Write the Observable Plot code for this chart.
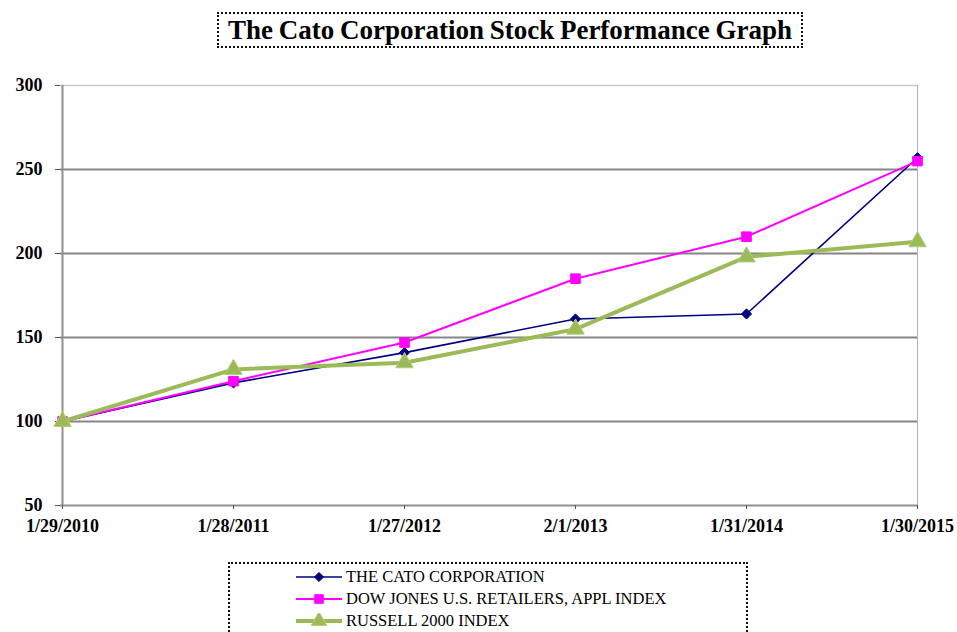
<!DOCTYPE html>
<html><head><meta charset="utf-8">
<script src="https://cdn.jsdelivr.net/npm/d3@7"></script>
<script src="https://cdn.jsdelivr.net/npm/@observablehq/plot@0.6"></script>
<style>
html,body{margin:0;padding:0;background:#fff;}
body{width:957px;height:632px;overflow:hidden;position:relative;font-family:"Liberation Serif","Times New Roman",serif;color:#000;}
#title{position:absolute;left:217px;top:12px;width:582px;height:32px;border:2px dotted #111;box-sizing:content-box;
  font-weight:bold;font-size:27px;line-height:32px;text-align:center;white-space:nowrap;word-spacing:-1px;}
#chart{position:absolute;left:0;top:60px;}
#legend{position:absolute;left:228px;top:562px;width:516px;height:90px;border:2px dotted #111;}
.row{position:absolute;left:66px;height:20px;display:flex;align-items:center;font-size:16.5px;white-space:nowrap;}
.row svg{margin-right:4px;}
</style></head>
<body>
<div id="title"></div>
<div id="chart"></div>
<div id="legend"></div>
<script>
const titleText = "The Cato Corporation Stock Performance Graph";
const dates = ["1/29/2010","1/28/2011","1/27/2012","2/1/2013","1/31/2014","1/30/2015"];
const cato = [100,123,141,161,164,257];
const dow = [100,124,147,185,210,255];
const russell = [100,131,135,155,198,207];
const seriesNames = ["THE CATO CORPORATION","DOW JONES U.S. RETAILERS, APPL INDEX","RUSSELL 2000 INDEX"];
const yTicks = [50,100,150,200,250,300];

document.getElementById("title").textContent = titleText;

const rows = (vals, name) => dates.map((d,i)=>({date:d, value:vals[i], series:name}));
const catoRows = rows(cato, seriesNames[0]);
const dowRows = rows(dow, seriesNames[1]);
const rusRows = rows(russell, seriesNames[2]);

const styles = [
  {stroke:"#000080", width:1.6, symbol:"diamond2", r:4.6, fill:"#000080", mstroke:"#000080"},
  {stroke:"#ff00ff", width:2, symbol:"square", r:5.4, fill:"#ff00ff", mstroke:"#ff00ff"},
  {stroke:"#9bbb59", width:4, symbol:"triangle", r:6.5, fill:"#9bbb59", mstroke:"#b5cc78"}
];
const data = [catoRows, dowRows, rusRows];

const seriesMarks = data.flatMap((d,i)=>[
  Plot.line(d,{x:"date",y:"value",stroke:styles[i].stroke,strokeWidth:styles[i].width}),
  Plot.dot(d,{x:"date",y:"value",symbol:()=>styles[i].symbol,r:styles[i].r,fill:styles[i].fill,stroke:styles[i].mstroke,strokeWidth:1})
]);

const chart = Plot.plot({
  width:957, height:485, marginLeft:60, marginRight:39, marginTop:25, marginBottom:40,
  style:{fontFamily:"'Liberation Serif', serif", fontSize:"18px", fontWeight:"bold", color:"#000", background:"transparent", overflow:"visible"},
  x:{type:"point", domain:dates, padding:0, label:null},
  y:{domain:[50,300], ticks:yTicks, label:null},
  symbol:{type:"identity"},
  marks:[
    Plot.ruleY([yTicks[5]],{stroke:"#c8c8c8", strokeWidth:1.5}),
    Plot.ruleY(yTicks.slice(1,5),{stroke:"#858585", strokeWidth:2}),
    Plot.ruleX([dates[5]],{stroke:"#b4b4b4", strokeWidth:1}),
    Plot.ruleY([yTicks[0]],{stroke:"#909090", strokeWidth:2}),
    Plot.ruleX([dates[0]],{stroke:"#909090", strokeWidth:2}),
    Plot.axisY({ticks:yTicks, tickSize:5, tickPadding:13, tickFormat:d=>String(d), stroke:"#555", label:null}),
    Plot.axisX({tickSize:4, tickPadding:10, stroke:"#555", label:null}),
    ...seriesMarks
  ]
});
document.getElementById("chart").appendChild(chart);

// legend
const legend = document.getElementById("legend");
seriesNames.forEach((name,i)=>{
  const row = document.createElement("div");
  row.className = "row";
  row.style.top = (3 + i*22) + "px";
  const s = styles[i];
  const sym = d3.symbol(d3["symbol" + {diamond2:"Diamond2",square:"Square",triangle:"Triangle"}[s.symbol]], Math.PI*s.r*s.r*0.8)();
  row.innerHTML = `<svg width="46" height="16"><line x1="0" x2="46" y1="8" y2="8" stroke="${s.stroke}" stroke-width="${s.width}"/>`+
    `<path d="${sym}" transform="translate(23,8)" fill="${s.fill}" stroke="${s.mstroke}"/></svg><span></span>`;
  row.querySelector("span").textContent = name;
  legend.appendChild(row);
});
</script>
</body></html>
